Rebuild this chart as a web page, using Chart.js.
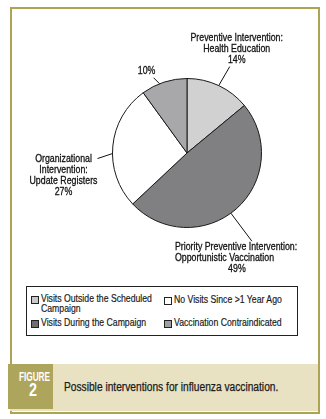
<!DOCTYPE html>
<html>
<head>
<meta charset="utf-8">
<script src="https://cdn.jsdelivr.net/npm/chart.js@4"></script>
<style>
  html, body { margin: 0; padding: 0; background: #fff; }
  #wrap { position: relative; width: 326px; height: 419px; overflow: hidden;
          font-family: "Liberation Sans", Arial, sans-serif; }
  #frame { position: absolute; left: 10px; top: 7px; width: 306px; height: 403px;
           border: 2px solid #aca353; background: #fff; }
  #band { position: absolute; left: 10px; top: 364px; width: 308px; height: 47px; background: #e8e2c3; }
  #figbox { position: absolute; left: 8px; top: 364px; width: 45px; height: 45px; background: #aea55d;
            color: #fff; text-align: center; font-weight: bold; }
  #figbox .f1 { position: absolute; left: -6px; right: -14px; top: 6.5px; font-size: 12.5px; line-height: 13px;
                transform: scaleX(0.66); }
  #figbox .f2 { position: absolute; left: 0; right: -5px; top: 16.5px; font-size: 18px; line-height: 18px;
                transform: scaleX(0.8); }
  #caption { position: absolute; left: 64px; top: 380px; font-size: 12px; line-height: 14px; color: #1a1a1a;
             white-space: nowrap; transform: scaleX(0.85); transform-origin: 0 0; -webkit-text-stroke: 0.25px #1a1a1a; }
  #legend { position: absolute; left: 26px; top: 286px; width: 270px; height: 48px; border: 1.5px solid #222; }
  .item { position: absolute; font-size: 11px; line-height: 9.5px; color: #1a1a1a; }
  .sw { position: absolute; left: 0; top: 2px; width: 6px; height: 6px; border: 1px solid #222; }
  .txt { position: absolute; left: 10px; top: 0; transform: scaleX(0.79); transform-origin: 0 0;
         -webkit-text-stroke: 0.2px #1a1a1a; }
  canvas { position: absolute; left: 0; top: 0; pointer-events: none; }
</style>
</head>
<body>
<div id="wrap">
  <div id="frame"></div>
  <div id="legend"></div>
  <div id="band"></div>
  <div id="figbox"><div class="f1">FIGURE</div><div class="f2">2</div></div>
  <div id="caption">Possible interventions for influenza vaccination.</div>
  <canvas id="pie" width="326" height="419"></canvas>
</div>
<script>
// slice data, clockwise from 12 o'clock
const legendLabels = ['Visits Outside the Scheduled Campaign', 'Visits During the Campaign',
                      'No Visits Since >1 Year Ago', 'Vaccination Contraindicated'];
const sliceNames = [['Preventive Intervention:', 'Health Education'],
                    ['Priority Preventive Intervention:', 'Opportunistic Vaccination'],
                    ['Organizational', 'Intervention:', 'Update Registers'],
                    []];
const shares = [14, 49, 27, 10];
const sliceColors = ['#d1d1d2', '#808082', '#ffffff', '#a8a8aa'];
const swatchColors = ['#c9c9ca', '#6f6f71', '#ffffff', '#a0a0a2'];

// leader line + label layout per slice (relative to the arc)
const calloutLayout = [
  { f: 0.5,  ex: 11,  ey: -19, lines: 'center', tx: 7,   ty: -29, pct: 'center', px: 7,   py: 0 },
  { f: 0.53, ex: 21,  ey: 28,  lines: 'left',   tx: -77, ty: 6,   pct: 'center', px: -15, py: 0 },
  { f: 0.44, ex: -15, ey: 5,   lines: 'center', tx: -34, ty: 0,   pct: 'center', px: -34, py: 0 },
  { f: 0.4,  ex: -6,  ey: -6,  lines: 'center', tx: -7,  ty: -7,  pct: 'center', px: -7,  py: 0 }
];

const FONT = '11px "Liberation Sans", Arial, sans-serif';
const SQUEEZE = 0.8;
const LINE_H = 11;

function narrowText(ctx, t, x, y) {
  ctx.save();
  ctx.translate(x, y);
  ctx.scale(SQUEEZE, 1);
  ctx.lineWidth = 0.3;
  ctx.strokeText(t, 0, 0);
  ctx.fillText(t, 0, 0);
  ctx.restore();
}

const calloutPlugin = {
  id: 'callouts',
  afterDatasetsDraw: function(chart) {
    const ctx = chart.ctx;
    const meta = chart.getDatasetMeta(0);
    ctx.save();
    ctx.strokeStyle = '#111';
    ctx.lineWidth = 1;
    ctx.fillStyle = '#111';
    ctx.font = FONT;
    ctx.textBaseline = 'middle';
    meta.data.forEach(function(arc, i) {
      const lay = calloutLayout[i];
      const a = arc.startAngle + (arc.endAngle - arc.startAngle) * lay.f;
      const r = arc.outerRadius;
      const x0 = arc.x + Math.cos(a) * r;
      const y0 = arc.y + Math.sin(a) * r;
      const x1 = x0 + lay.ex;
      const y1 = y0 + lay.ey;
      ctx.beginPath();
      ctx.moveTo(x0, y0);
      ctx.lineTo(x1, y1);
      ctx.stroke();

      const lines = sliceNames[i];
      ctx.textAlign = lay.lines;
      let y = y1 + lay.ty;
      lines.forEach(function(t) {
        narrowText(ctx, t, x1 + lay.tx, y);
        y += LINE_H;
      });
      ctx.textAlign = lay.pct;
      const py = lines.length ? y + lay.py : y1 + lay.ty;
      narrowText(ctx, shares[i] + '%', x1 + lay.px, py);
    });
    ctx.restore();
  }
};

new Chart(document.getElementById('pie').getContext('2d'), {
  type: 'pie',
  data: {
    labels: legendLabels,
    datasets: [{
      data: shares,
      backgroundColor: sliceColors,
      borderColor: '#1a1a1a',
      borderWidth: 1
    }]
  },
  options: {
    responsive: false,
    animation: false,
    layout: { padding: { left: 112, right: 64, top: 78, bottom: 191 } },
    plugins: {
      legend: { display: false },
      tooltip: { enabled: false }
    }
  },
  plugins: [calloutPlugin]
});

// legend box, two columns filled top to bottom
const legendBox = document.getElementById('legend');
const itemPos = [[4, 7], [4, 31], [137, 8], [137, 31]];
legendLabels.forEach(function(label, i) {
  const item = document.createElement('div');
  item.className = 'item';
  item.style.left = itemPos[i][0] + 'px';
  item.style.top = itemPos[i][1] + 'px';
  item.innerHTML = '<div class="sw" style="background:' + swatchColors[i] + '"></div>' +
    '<div class="txt" style="width:' + (i === 0 ? 146 : 170) + 'px">' + label + '</div>';
  legendBox.appendChild(item);
});
</script>
</body>
</html>
